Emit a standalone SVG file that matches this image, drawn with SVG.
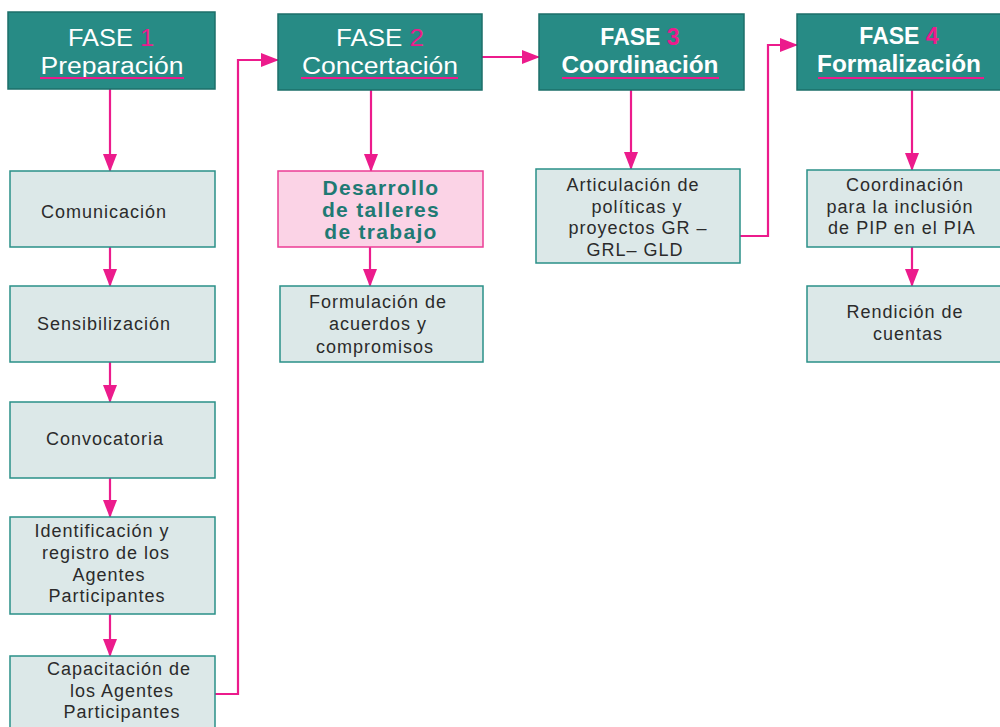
<svg xmlns="http://www.w3.org/2000/svg" width="1000" height="727" viewBox="0 0 1000 727">
<defs>
<style>
.phase{fill:#278b85;stroke:#1d6f6a;stroke-width:1.5}
.box{fill:#dce8e8;stroke:#2a9088;stroke-width:1.5}
.hl{fill:#fbd3e6;stroke:#ec3d95;stroke-width:1.5}
.pt{font-family:"Liberation Sans",Arial,sans-serif;font-size:23px;font-weight:bold;fill:#ffffff;text-anchor:middle}
.pn{font-family:"Liberation Sans",Arial,sans-serif;font-size:23px;fill:#ffffff;text-anchor:middle}
.num{fill:#ec1b8c}
.bt{font-family:"Liberation Sans",Arial,sans-serif;font-size:18px;letter-spacing:1px;fill:#2b2b2b;text-anchor:middle}
.ht{font-family:"Liberation Sans",Arial,sans-serif;font-size:21px;letter-spacing:1.3px;font-weight:bold;fill:#1f7a74;text-anchor:middle}
.ul{stroke:#ec1b8c;stroke-width:2}
.c{fill:none;stroke:#ec1b8c;stroke-width:2.2}
</style>
<marker id="ah" viewBox="0 0 18 14" refX="17" refY="7" markerWidth="18" markerHeight="14" markerUnits="userSpaceOnUse" orient="auto">
<path d="M0,0 L18,7 L0,14 z" fill="#ec1b8c"/>
</marker>
</defs>
<rect width="1000" height="727" fill="#ffffff"/>

<g id="connectors">
<line class="c" x1="110" y1="89" x2="110" y2="171" marker-end="url(#ah)"/>
<line class="c" x1="110" y1="247" x2="110" y2="286" marker-end="url(#ah)"/>
<line class="c" x1="110" y1="362" x2="110" y2="402" marker-end="url(#ah)"/>
<line class="c" x1="110" y1="478" x2="110" y2="517" marker-end="url(#ah)"/>
<line class="c" x1="110" y1="614" x2="110" y2="656" marker-end="url(#ah)"/>
<polyline class="c" points="215,694 238,694 238,60 278,60" marker-end="url(#ah)"/>
<line class="c" x1="371" y1="90" x2="371" y2="171" marker-end="url(#ah)"/>
<line class="c" x1="370" y1="247" x2="370" y2="286" marker-end="url(#ah)"/>
<line class="c" x1="482" y1="57" x2="539" y2="57" stroke-width="3" marker-end="url(#ah)"/>
<line class="c" x1="631" y1="90" x2="631" y2="169" marker-end="url(#ah)"/>
<polyline class="c" points="740,236 768,236 768,45 797,45" marker-end="url(#ah)"/>
<line class="c" x1="912" y1="90" x2="912" y2="170" marker-end="url(#ah)"/>
<line class="c" x1="912" y1="247" x2="912" y2="286" marker-end="url(#ah)"/>
</g>

<g id="fase1">
<rect class="phase" x="8" y="12" width="207" height="77"/>
<text class="pn" x="111" y="46" textLength="86" lengthAdjust="spacingAndGlyphs">FASE <tspan class="num">1</tspan></text>
<text class="pn" x="112" y="74" textLength="143" lengthAdjust="spacingAndGlyphs">Preparación</text>
<line class="ul" x1="40" y1="78" x2="184" y2="78"/>
</g>

<g id="fase2">
<rect class="phase" x="278" y="14" width="204" height="76"/>
<text class="pn" x="380" y="46" textLength="88" lengthAdjust="spacingAndGlyphs">FASE <tspan class="num">2</tspan></text>
<text class="pn" x="380" y="74" textLength="156" lengthAdjust="spacingAndGlyphs">Concertación</text>
<line class="ul" x1="301" y1="78" x2="458" y2="78"/>
</g>

<g id="fase3">
<rect class="phase" x="539" y="14" width="205" height="76"/>
<text class="pt" x="640" y="45">FASE <tspan class="num">3</tspan></text>
<text class="pt" x="640" y="73" textLength="157" lengthAdjust="spacingAndGlyphs">Coordinación</text>
<line class="ul" x1="562" y1="78" x2="719" y2="78"/>
</g>

<g id="fase4">
<rect class="phase" x="797" y="14" width="210" height="76"/>
<text class="pt" x="899" y="44">FASE <tspan class="num">4</tspan></text>
<text class="pt" x="899" y="72" textLength="164" lengthAdjust="spacingAndGlyphs">Formalización</text>
<line class="ul" x1="818" y1="78" x2="984" y2="78"/>
</g>

<g id="comunicacion">
<rect class="box" x="10" y="171" width="205" height="76"/>
<text class="bt" x="104" y="218">Comunicación</text>
</g>
<g id="sensibilizacion">
<rect class="box" x="10" y="286" width="205" height="76"/>
<text class="bt" x="104" y="330">Sensibilización</text>
</g>
<g id="convocatoria">
<rect class="box" x="10" y="402" width="205" height="76"/>
<text class="bt" x="105" y="445">Convocatoria</text>
</g>
<g id="identificacion">
<rect class="box" x="10" y="517" width="205" height="97"/>
<text class="bt" x="102" y="537">Identificación y</text>
<text class="bt" x="106" y="559">registro de los</text>
<text class="bt" x="109" y="581">Agentes</text>
<text class="bt" x="107" y="602">Participantes</text>
</g>
<g id="capacitacion">
<rect class="box" x="10" y="656" width="205" height="80"/>
<text class="bt" x="119" y="675">Capacitación de</text>
<text class="bt" x="122" y="697">los Agentes</text>
<text class="bt" x="122" y="718">Participantes</text>
</g>

<g id="desarrollo">
<rect class="hl" x="278" y="171" width="205" height="76"/>
<text class="ht" x="381" y="195">Desarrollo</text>
<text class="ht" x="381" y="217">de talleres</text>
<text class="ht" x="381" y="239">de trabajo</text>
</g>
<g id="formulacion">
<rect class="box" x="280" y="286" width="203" height="76"/>
<text class="bt" x="378" y="308">Formulación de</text>
<text class="bt" x="378" y="330">acuerdos y</text>
<text class="bt" x="375" y="353">compromisos</text>
</g>

<g id="articulacion">
<rect class="box" x="536" y="169" width="204" height="94"/>
<text class="bt" x="633" y="191">Articulación de</text>
<text class="bt" x="637" y="213">políticas y</text>
<text class="bt" x="638" y="234">proyectos GR  –</text>
<text class="bt" x="635" y="256">GRL– GLD</text>
</g>

<g id="coordinacion">
<rect class="box" x="807" y="170" width="200" height="77"/>
<text class="bt" x="905" y="191">Coordinación</text>
<text class="bt" x="900" y="213">para la inclusión</text>
<text class="bt" x="902" y="234">de PIP  en el PIA</text>
</g>
<g id="rendicion">
<rect class="box" x="807" y="286" width="200" height="76"/>
<text class="bt" x="905" y="318">Rendición de</text>
<text class="bt" x="908" y="340">cuentas</text>
</g>
</svg>
